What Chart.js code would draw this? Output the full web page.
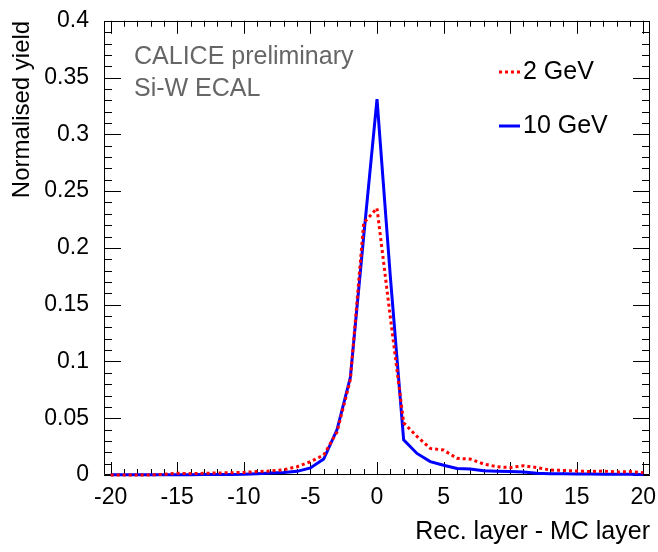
<!DOCTYPE html>
<html>
<head>
<meta charset="utf-8">
<script src="https://cdn.jsdelivr.net/npm/chart.js@4/dist/chart.umd.min.js"></script>
<style>
	body { margin: 0; background: #fff; }
	#wrap { width: 658px; height: 552px; }
</style>
</head>
<body>
<div id="wrap"><canvas id="myChart" width="658" height="552"></canvas></div>
<script>
// bin centres (rec. layer - MC layer)
const layers = [-20, -19, -18, -17, -16, -15, -14, -13, -12, -11, -10, -9, -8, -7, -6, -5, -4, -3, -2, -1, 0,
	1, 2, 3, 4, 5, 6, 7, 8, 9, 10, 11, 12, 13, 14, 15, 16, 17, 18, 19, 20];

// normalised yield
const yield2GeV = [0, 0, 0, 0, 0.0006, 0.0015, 0.0012, 0.0015, 0.0018, 0.0020, 0.0023, 0.0030, 0.0035, 0.0047, 0.0073, 0.0117, 0.0176, 0.0380, 0.0840, 0.2220, 0.2350,
	0.1390, 0.0460, 0.0340, 0.0234, 0.0220, 0.0147, 0.0140, 0.0097, 0.0073, 0.0065, 0.0082, 0.0065, 0.0044, 0.0040, 0.0035, 0.0030, 0.0035, 0.0026, 0.0030, 0.0020];
const yield10GeV = [0.0003, 0.0003, 0.0003, 0.0003, 0.0003, 0.0003, 0.0003, 0.0004, 0.0004, 0.0005, 0.0006, 0.0012, 0.0018, 0.0022, 0.0032, 0.0062, 0.0140, 0.0400, 0.0860, 0.2100, 0.3310,
	0.1750, 0.0310, 0.0190, 0.0118, 0.0086, 0.0058, 0.0052, 0.0038, 0.0034, 0.0030, 0.0027, 0.0016, 0.0012, 0.0010, 0.0009, 0.0008, 0.0007, 0.0006, 0.0006, 0.0005];

const xTickLabels = [-20, -15, -10, -5, 0, 5, 10, 15, 20];
const yTickLabels = [0, 0.05, 0.1, 0.15, 0.2, 0.25, 0.3, 0.35, 0.4];
const seriesNames = ['2 GeV', '10 GeV'];
const noteLines = ['CALICE preliminary', 'Si-W ECAL'];

const FONT = '"Liberation Sans", Arial, sans-serif';

// ROOT-like frame: box plus inward ticks on all four sides
const frameTicks = {
	id: 'frameTicks',
	beforeDatasetsDraw(chart) {
		const { ctx, chartArea: a, scales: { x, y } } = chart;
		ctx.save();
		ctx.strokeStyle = '#000';
		ctx.lineWidth = 1;
		ctx.beginPath();
		ctx.rect(Math.round(a.left) + 0.5, Math.round(a.top) + 0.5, Math.round(a.width) - 1, Math.round(a.height) - 1);
		// x ticks, minor every 1
		for (let v = xTickLabels[0]; v <= xTickLabels[xTickLabels.length - 1]; v += 1) {
			const px = Math.round(x.getPixelForValue(v)) + 0.5;
			const len = xTickLabels.includes(v) ? 13 : 6;
			ctx.moveTo(px, a.bottom); ctx.lineTo(px, a.bottom - len);
			ctx.moveTo(px, a.top); ctx.lineTo(px, a.top + len);
		}
		// y ticks, minor every 0.01
		for (let i = 0; i <= 40; i++) {
			const py = Math.round(y.getPixelForValue(i / 100)) + 0.5;
			const len = i % 5 === 0 ? 17 : 8;
			ctx.moveTo(a.left, py); ctx.lineTo(a.left + len, py);
			ctx.moveTo(a.right, py); ctx.lineTo(a.right - len, py);
		}
		ctx.stroke();
		ctx.restore();
	},
	afterDatasetsDraw(chart) {
		const { ctx } = chart;
		ctx.save();
		// label text
		ctx.fillStyle = '#666';
		ctx.font = '25px ' + FONT;
		ctx.textBaseline = 'middle';
		ctx.fillText(noteLines[0], 134, 57);
		ctx.fillText(noteLines[1], 134, 89);
		// legend
		const rows = [72, 126];
		chart.data.datasets.forEach((ds, i) => {
			ctx.strokeStyle = ds.borderColor;
			ctx.lineWidth = ds.borderWidth;
			ctx.setLineDash(ds.borderDash || []);
			ctx.beginPath();
			ctx.moveTo(499, rows[i]);
			ctx.lineTo(520, rows[i]);
			ctx.stroke();
			ctx.setLineDash([]);
			ctx.fillStyle = '#000';
			ctx.fillText(ds.label, 523, rows[i]);
		});
		ctx.restore();
	}
};

new Chart(document.getElementById('myChart'), {
	type: 'line',
	data: {
		labels: layers,
		datasets: [{
			label: seriesNames[0],
			data: layers.map((l, i) => ({ x: l, y: yield2GeV[i] })),
			borderColor: '#ff0000',
			borderWidth: 3,
			borderDash: [3, 3],
			pointRadius: 0,
			tension: 0,
			clip: 4
		}, {
			label: seriesNames[1],
			data: layers.map((l, i) => ({ x: l, y: yield10GeV[i] })),
			borderColor: '#0000ff',
			borderWidth: 3,
			pointRadius: 0,
			tension: 0,
			clip: 4
		}]
	},
	options: {
		responsive: false,
		animation: false,
		layout: { padding: { top: 20, right: 8, left: 0, bottom: 0 } },
		plugins: { legend: { display: false }, tooltip: { enabled: false } },
		scales: {
			x: {
				type: 'linear',
				min: -20.5,
				max: 20.5,
				grid: { display: false },
				border: { display: false },
				afterBuildTicks: s => { s.ticks = xTickLabels.map(v => ({ value: v })); },
				afterFit: s => { s.height = 77; },
				ticks: { color: '#000', font: { family: FONT, size: 23 }, padding: 1, maxRotation: 0, autoSkip: false },
				title: { display: true, text: 'Rec. layer - MC layer', align: 'end', color: '#000', font: { family: FONT, size: 25 }, padding: { top: 0, bottom: 5 } }
			},
			y: {
				min: 0,
				max: 0.4,
				grid: { display: false },
				border: { display: false },
				afterBuildTicks: s => { s.ticks = yTickLabels.map(v => ({ value: v })); },
				afterFit: s => { s.width = 104; },
				ticks: { color: '#000', font: { family: FONT, size: 23 }, padding: 7, callback: v => String(+v.toFixed(2)) },
				title: { display: true, text: 'Normalised yield', align: 'end', color: '#000', font: { family: FONT, size: 24 }, padding: { top: 8, bottom: 0 } }
			}
		}
	},
	plugins: [frameTicks]
});
</script>
</body>
</html>
